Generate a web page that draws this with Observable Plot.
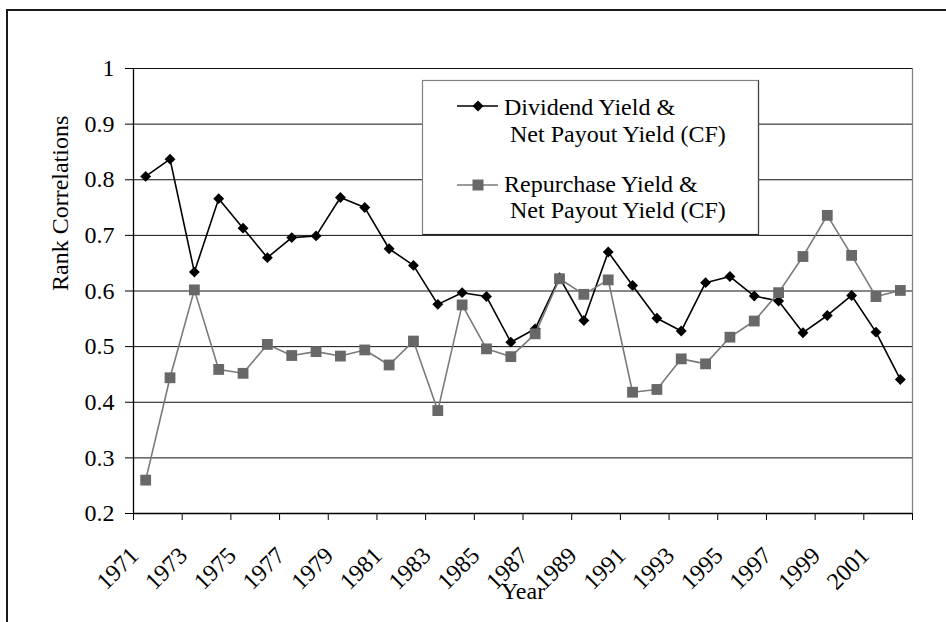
<!DOCTYPE html>
<html><head><meta charset="utf-8">
<script src="https://cdn.jsdelivr.net/npm/d3@7"></script>
<script src="https://cdn.jsdelivr.net/npm/@observablehq/plot@0.6"></script>
<style>
body{margin:0;background:#fff;}
#wrap{position:relative;width:946px;height:622px;overflow:hidden;font-family:"Liberation Serif","Times New Roman","DejaVu Serif",serif;background:#fff;}
#frame{position:absolute;left:6px;top:9px;width:1000px;height:1000px;border:2px solid #1a1a1a;}
#chart{position:absolute;left:0;top:0;}
#legend{position:absolute;left:0;top:0;}
#wrap svg text{font-family:"Liberation Serif","Times New Roman","DejaVu Serif",serif !important;}
</style></head><body><div id="wrap"><div id="frame"></div><div id="chart"></div></div>
<script>
const years = [1971,1972,1973,1974,1975,1976,1977,1978,1979,1980,1981,1982,1983,1984,1985,1986,1987,1988,1989,1990,1991,1992,1993,1994,1995,1996,1997,1998,1999,2000,2001,2002];
const dividendYield = [0.806,0.837,0.634,0.766,0.713,0.660,0.696,0.699,0.768,0.750,0.676,0.646,0.576,0.597,0.590,0.508,0.532,0.624,0.547,0.670,0.610,0.551,0.528,0.615,0.626,0.591,0.582,0.525,0.556,0.592,0.526,0.441];
const repurchaseYield = [0.260,0.444,0.602,0.459,0.452,0.504,0.484,0.491,0.483,0.494,0.467,0.510,0.385,0.575,0.496,0.482,0.523,0.622,0.594,0.620,0.418,0.423,0.478,0.469,0.517,0.546,0.597,0.662,0.736,0.664,0.590,0.601];
const xTickLabels = [1971,1973,1975,1977,1979,1981,1983,1985,1987,1989,1991,1993,1995,1997,1999,2001];
const yTicks = [0.2,0.3,0.4,0.5,0.6,0.7,0.8,0.9,1];
const seriesNames = ["Dividend Yield &", "Net Payout Yield (CF)", "Repurchase Yield &", "Net Payout Yield (CF)"];
const yLabel = "Rank Correlations";
const xLabel = "Year";

const rows = years.map((yr, i) => ({year: yr, div: dividendYield[i], rep: repurchaseYield[i]}));
const bounds = xTickLabels.map(t => t - 0.5).concat([years[years.length - 1] + 0.5]);

const W = 946, H = 622;
const mL = 133, mR = 34, mT = 68, mB = 109;
const FS = 24;
const FF = '"Liberation Serif","Times New Roman","DejaVu Serif",serif';

const chart = Plot.plot({
  width: W, height: H,
  marginLeft: mL, marginRight: mR, marginTop: mT, marginBottom: mB,
  style: {fontFamily: FF, fontSize: FS + "px", background: "transparent", color: "#000", overflow: "visible"},
  x: {type: "linear", domain: [bounds[0], bounds[bounds.length - 1]]},
  y: {domain: [0.2, 1]},
  marks: [
    Plot.ruleY(yTicks.filter(v => v > 0.2), {stroke: "#111", strokeWidth: 1}),
    Plot.ruleX([bounds[bounds.length - 1]], {stroke: "#808080", strokeWidth: 1.3}),
    Plot.axisY({ticks: yTicks, tickSize: 8, tickPadding: 11, tickFormat: d => d === 1 ? "1" : d.toFixed(1), label: null, fontSize: FS, fontFamily: FF}),
    Plot.axisX({ticks: bounds, tickSize: 7, tickFormat: () => "", label: null}),
    Plot.ruleX([bounds[0]], {stroke: "#000", strokeWidth: 1.3}),
    Plot.ruleY([0.2], {stroke: "#000", strokeWidth: 1.3}),
    Plot.text(xTickLabels, {x: d => d, y: () => 0.2, text: d => String(d), rotate: -45, textAnchor: "end", lineAnchor: "middle", dx: -11, dy: 38, fontSize: FS, fontFamily: FF}),
    Plot.line(rows, {x: "year", y: "div", stroke: "#000", strokeWidth: 1.6}),
    Plot.dot(rows, {x: "year", y: "div", symbol: "diamond2", r: 4.9, fill: "#000", stroke: "none"}),
    Plot.line(rows, {x: "year", y: "rep", stroke: "#7a7a7a", strokeWidth: 1.6}),
    Plot.dot(rows, {x: "year", y: "rep", symbol: "square", r: 6.1, fill: "#686868", stroke: "none"}),
    Plot.text([yLabel], {frameAnchor: "left", dx: 60 - mL, rotate: -90, fontSize: FS, fontFamily: FF}),
    Plot.text([xLabel], {frameAnchor: "bottom", dy: 85, fontSize: FS, fontFamily: FF})
  ]
});
document.getElementById("chart").appendChild(chart);

// legend overlay
const ns = "http://www.w3.org/2000/svg";
const lg = document.createElementNS(ns, "svg");
lg.setAttribute("id", "legend");
lg.setAttribute("width", W); lg.setAttribute("height", H);
lg.innerHTML = `
  <rect x="422.5" y="80.5" width="336" height="154" fill="#fff" stroke="#808080" stroke-width="1.2"/>
  <line x1="422.5" y1="234.5" x2="758.5" y2="234.5" stroke="#222" stroke-width="1.2"/>
  <line x1="758.5" y1="80.5" x2="758.5" y2="234.5" stroke="#444" stroke-width="1.2"/>
  <line x1="457" y1="106" x2="498" y2="106" stroke="#000" stroke-width="1.6"/>
  <path d="M478,100.5L483.5,106L478,111.5L472.5,106Z" fill="#000"/>
  <line x1="457" y1="185" x2="498" y2="185" stroke="#7a7a7a" stroke-width="1.6"/>
  <rect x="472.5" y="179.5" width="11" height="11" fill="#686868"/>
  <g font-size="${FS}" fill="#000">
    <text x="504" y="115">${seriesNames[0].replace("&","&amp;")}</text>
    <text x="510" y="141.7">${seriesNames[1]}</text>
    <text x="504" y="191.7">${seriesNames[2].replace("&","&amp;")}</text>
    <text x="510" y="218.3">${seriesNames[3]}</text>
  </g>`;
document.getElementById("wrap").appendChild(lg);
</script></body></html>
